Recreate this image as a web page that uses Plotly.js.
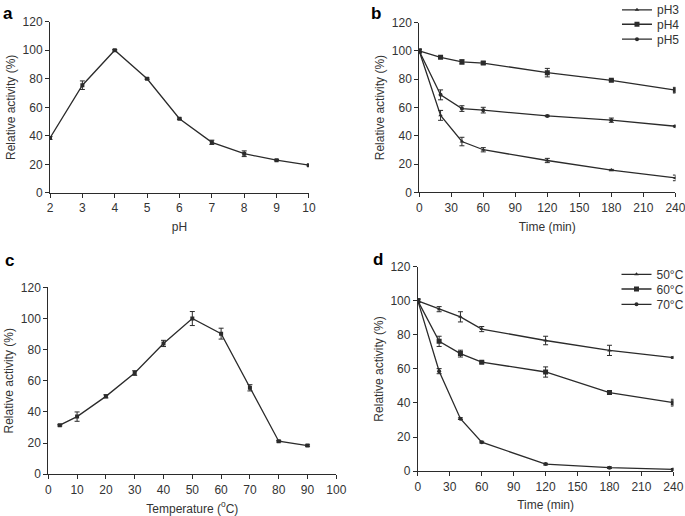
<!DOCTYPE html>
<html>
<head>
<meta charset="utf-8">
<script src="https://cdn.plot.ly/plotly-3.0.1.min.js"></script>
<style>
  html, body { margin: 0; padding: 0; background: #fff; }
  #myDiv { width: 685px; height: 516px; }
</style>
</head>
<body>
<div id="myDiv"></div>
<script>
// panel a: pH profile
const phValues = [2, 3, 4, 5, 6, 7, 8, 9, 10];
const phActivity = [38.5, 75.5, 100, 80, 52, 35.5, 27.5, 23, 19.5];
const phError = [1, 3, 0.5, 0.5, 0.5, 1.5, 2, 0.5, 0.5];

// panels b and d share the sampling times
const timePoints = [0, 20, 40, 60, 120, 180, 240];

// panel b: pH stability
const pH3Activity = [100, 54.5, 36, 30.2, 22.6, 15.8, 10.3];
const pH3Error = [1, 3.5, 3, 1.5, 1.5, 0.5, 2];
const pH4Activity = [100, 95.5, 92.3, 91.5, 84.7, 79.3, 72.3];
const pH4Error = [1.5, 0.5, 1.5, 1, 3, 0.5, 2];
const pH5Activity = [100, 69, 59.3, 58.2, 54.1, 51.1, 46.8];
const pH5Error = [1, 3.5, 2, 2, 0.5, 1.5, 0.5];

// panel c: temperature profile
const tempValues = [4, 10, 20, 30, 40, 50, 60, 70, 80, 90];
const tempActivity = [31.5, 37, 50, 65, 84, 100, 90.3, 55.5, 21.2, 18.4];
const tempError = [0.5, 3, 1, 1.5, 2, 4.5, 3.5, 2, 0.5, 0.5];

// panel d: thermal stability
const t50Activity = [100, 95.1, 90.6, 83.4, 76.7, 70.9, 66.7];
const t50Error = [1, 1.5, 3, 1.5, 2.5, 3, 0.5];
const t60Activity = [100, 76.2, 69, 64, 58.2, 46.1, 40.2];
const t60Error = [1, 3, 2, 0.5, 3, 1, 2];
const t70Activity = [100, 58.7, 30.8, 17, 4.1, 2, 1];
const t70Error = [1, 1.5, 0.5, 0.5, 0.5, 0.5, 0.5];

const ink = '#2b2b2b';

const makeTrace = (x, y, err, symbol, size, xa, ya, name, legend) => ({
    x: x,
    y: y,
    type: 'scatter',
    mode: 'lines+markers',
    name: name,
    showlegend: !!name,
    legend: legend,
    xaxis: xa,
    yaxis: ya,
    line: { color: ink, width: 1.3 },
    marker: { color: ink, symbol: symbol, size: size },
    error_y: { type: 'data', array: err, visible: true, color: ink, thickness: 1, width: 2.5 }
});

// one legend per entry so the rows can sit as close as in the figure
const getData = () => [
    makeTrace(phValues, phActivity, phError, 'square', 4, 'x', 'y'),
    makeTrace(timePoints, pH3Activity, pH3Error, 'triangle-up', 4, 'x2', 'y2', 'pH3', 'legend'),
    makeTrace(timePoints, pH4Activity, pH4Error, 'square', 5, 'x2', 'y2', 'pH4', 'legend2'),
    makeTrace(timePoints, pH5Activity, pH5Error, 'circle', 4, 'x2', 'y2', 'pH5', 'legend3'),
    makeTrace(tempValues, tempActivity, tempError, 'square', 4, 'x3', 'y3'),
    makeTrace(timePoints, t50Activity, t50Error, 'triangle-up', 4, 'x4', 'y4', '50°C', 'legend4'),
    makeTrace(timePoints, t60Activity, t60Error, 'square', 5, 'x4', 'y4', '60°C', 'legend5'),
    makeTrace(timePoints, t70Activity, t70Error, 'circle', 4, 'x4', 'y4', '70°C', 'legend6')
];

const axisStyle = {
    showline: true,
    linecolor: ink,
    linewidth: 1,
    showgrid: false,
    zeroline: false,
    ticks: 'outside',
    ticklen: 4,
    tickcolor: ink,
    tickfont: { size: 12, color: '#333' },
    ticklabeloverflow: 'allow',
    fixedrange: true
};

const xAxis = (domain, range, dtick, title, anchor) => Object.assign({}, axisStyle, {
    domain: domain, range: range, dtick: dtick, tick0: 0, anchor: anchor,
    title: { text: title, font: { size: 12, color: '#333' }, standoff: 8 }
});

const yAxis = (domain, anchor) => Object.assign({}, axisStyle, {
    domain: domain, range: [0, 120], dtick: 20, anchor: anchor,
    title: { text: 'Relative activity (%)', font: { size: 12, color: '#333' }, standoff: 4 }
});

const panelLabel = (text, x, y) => ({
    text: text, x: x, y: y, xref: 'paper', yref: 'paper',
    xanchor: 'left', yanchor: 'top', showarrow: false,
    font: { size: 17, color: '#000', family: 'Liberation Sans, Arial, sans-serif', weight: 'bold' }
});

// legends are anchored on their middle so none pokes above the paper
const legendStyle = (x, y) => ({
    x: x, y: y, xanchor: 'left', yanchor: 'middle',
    bgcolor: 'rgba(0,0,0,0)', borderwidth: 0,
    font: { size: 12, color: '#333' },
    itemwidth: 30
});

const getLayout = () => ({
    width: 685,
    height: 516,
    margin: { l: 0, r: 0, t: 0, b: 0, autoexpand: false },
    paper_bgcolor: '#fff',
    plot_bgcolor: '#fff',
    font: { family: 'Liberation Sans, Arial, sans-serif', color: '#333' },
    xaxis: xAxis([0.073, 0.451], [2, 10], 1, 'pH', 'y'),
    yaxis: yAxis([0.626, 0.958], 'x'),
    xaxis2: xAxis([0.612, 0.986], [0, 240], 30, 'Time (min)', 'y2'),
    yaxis2: yAxis([0.627, 0.956], 'x2'),
    xaxis3: xAxis([0.0705, 0.491], [0, 100], 10, 'Temperature (<sup>o</sup>C)', 'y3'),
    yaxis3: yAxis([0.081, 0.443], 'x3'),
    xaxis4: xAxis([0.610, 0.983], [0, 240], 30, 'Time (min)', 'y4'),
    yaxis4: yAxis([0.087, 0.483], 'x4'),
    legend: legendStyle(0.9007, 0.981),
    legend2: legendStyle(0.9007, 0.953),
    legend3: legendStyle(0.9007, 0.924),
    legend4: legendStyle(0.9, 0.4684),
    legend5: legendStyle(0.9, 0.4399),
    legend6: legendStyle(0.9, 0.4103),
    annotations: [
        panelLabel('a', 0.002, 0.997),
        panelLabel('b', 0.539, 0.997),
        panelLabel('c', 0.004, 0.517),
        panelLabel('d', 0.542, 0.52)
    ],
    showlegend: true
});

Plotly.newPlot('myDiv', getData(), getLayout(), { displayModeBar: false, staticPlot: true });
</script>
</body>
</html>
